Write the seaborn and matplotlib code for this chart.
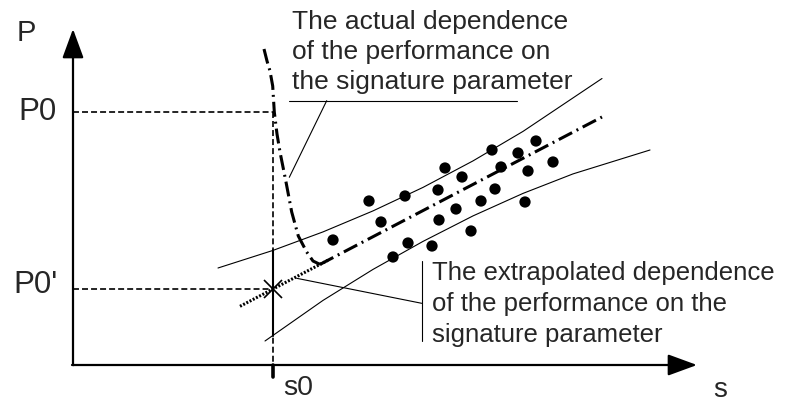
import matplotlib
matplotlib.use("Agg")
import matplotlib.pyplot as plt
import seaborn as sns
import pandas as pd

# ---------------- data (schematic units: s to the right, P upward) ----------------
s0 = 200
P0 = 253
P0_ext = 76

dots_s = [260, 296, 308, 332, 320, 335, 359, 366, 365, 372, 389,
          383, 398, 408, 422, 419, 428, 445, 455, 452, 463, 480]
dots_P = [125, 164, 143, 169, 108, 122, 119, 145, 175, 197, 188,
          156, 134, 164, 176, 215, 198, 212, 194, 163, 224, 203]

upper_s = [145, 200, 250, 300, 350, 400, 450, 529]
upper_P = [97, 114.6, 133.1, 154.1, 177.6, 204.1, 233.6, 286.5]

lower_s = [192, 250, 300, 350, 400, 450, 500, 577]
lower_P = [24, 64.6, 95.6, 123.6, 149.1, 171.6, 191.1, 215]

actual_s = [191, 194, 197, 199.7, 201.3, 204, 207, 213, 218.7, 225.3, 233.7, 240, 247]
actual_P = [316, 304, 294, 279, 253, 231, 213, 183, 153, 129, 113, 104, 100.6]

regr_s = [247, 529]
regr_P = [100.6, 248]
extrap_s = [167, 255]
extrap_P = [58.7, 104.8]

label_P = "P"
label_s = "s"
tick_P0 = "P0"
tick_P0e = "P0'"
tick_s0 = "s0"
note_actual = ["The actual dependence", "of the performance on", "the signature parameter"]
note_extrap = ["The extrapolated dependence", "of the performance on the", "signature parameter"]

# ---------------- figure ----------------
sns.set_style("white")
plt.rcParams["font.family"] = ["Liberation Sans", "DejaVu Sans"]
plt.rcParams["lines.scale_dashes"] = False

fig = plt.figure(figsize=(7.89, 4.02), dpi=100)
ax = fig.add_axes([0, 0, 1, 1])
ax.set_xlim(-73, 716)
ax.set_ylim(-36, 366)
ax.axis("off")

K = "black"

# axes with arrows
arrow = dict(arrowstyle="-|>,head_length=0.9,head_width=0.33", mutation_scale=20,
             lw=1.6, color=K, shrinkA=0, shrinkB=0)
ax.annotate("", xy=(0, 336), xytext=(0, 0), arrowprops=arrow)
ax.annotate("", xy=(624, 0), xytext=(0, 0), arrowprops=arrow)
ax.plot([-0.8, 0.8], [0, 0], color=K, lw=1.6)

# dashed guide lines
dash = (0, (4.3, 2.2))
ax.plot([0, s0], [P0, P0], color=K, lw=1.2, ls=dash)
ax.plot([0, s0], [P0_ext, P0_ext], color=K, lw=1.2, ls=dash)
ax.plot([s0, s0], [P0, 0], color=K, lw=1.2, ls=dash)
ax.plot([s0, s0], [upper_P[1], lower_P[0] + 5], color=K, lw=1.5)
ax.plot([s0, s0], [0, -12], color=K, lw=2.6)

# confidence band curves
band = pd.DataFrame({"s": upper_s + lower_s,
                     "P": upper_P + lower_P,
                     "curve": ["upper"] * len(upper_s) + ["lower"] * len(lower_s)})
sns.lineplot(data=band, x="s", y="P", units="curve", estimator=None, sort=False,
             color=K, lw=0.8, ax=ax, legend=False)

# actual dependence and regression (dash-dot), extrapolation (dotted)
dashdot = (0, (10.8, 3.6, 1.4, 3.6))
ax.plot(actual_s, actual_P, color=K, lw=2.2, ls=dashdot)
ax.plot(regr_s, regr_P, color=K, lw=2.2, ls=dashdot)
ax.plot(extrap_s, extrap_P, color=K, lw=2.2, ls=(0, (1.4, 1.2)))

# measured points
sns.scatterplot(x=dots_s, y=dots_P, color=K, s=66, edgecolor="none", ax=ax, zorder=5)

# extrapolated value marker
ax.plot([s0], [P0_ext], marker="x", ms=13, mew=1.2, color=K)

# axis labels
ax.text(-47, 333, label_P, fontsize=21, ha="center", va="center")
ax.text(647.5, -24, label_s, fontsize=20, ha="center", va="center")
ax.text(-16, P0 + 1, tick_P0, fontsize=22.5, ha="right", va="center")
ax.text(-15, P0_ext + 5, tick_P0e, fontsize=22.5, ha="right", va="center")
ax.text(210, -22, tick_s0, fontsize=20.5, ha="left", va="center")

# annotation 1
for txt, yb in zip(note_actual, [337.5, 307, 276.5]):
    ax.text(219, yb, txt, fontsize=19, ha="left", va="baseline")
ax.plot([216, 444], [264.3, 264.3], color=K, lw=0.8)
ax.plot([253.7, 216.3], [264.3, 187.7], color=K, lw=0.8)

# annotation 2
for txt, yb in zip(note_extrap, [86, 55, 24]):
    ax.text(359, yb, txt, fontsize=18.5, ha="left", va="baseline")
ax.plot([348.7, 348.7], [104, 24.3], color=K, lw=0.8)
ax.plot([223.7, 348.7], [86.7, 61.7], color=K, lw=0.8)

fig.savefig("out.png", dpi=100)
